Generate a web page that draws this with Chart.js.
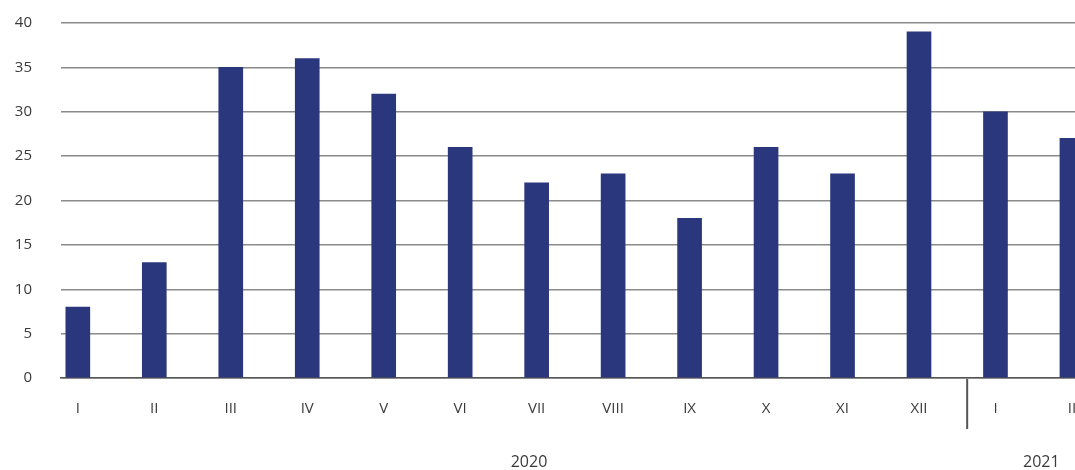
<!DOCTYPE html>
<html lang="en">
<head>
    <meta charset="UTF-8">
    <title>Monthly chart</title>
    <script src="https://cdn.jsdelivr.net/npm/chart.js@4.4.0/dist/chart.umd.min.js"></script>
    <style>
        html, body { margin: 0; padding: 0; background: #fff; overflow: hidden; }
        #wrap { width: 1075px; height: 470px; }
    </style>
</head>
<body>
    <div id="wrap"><canvas id="chart"></canvas></div>

    <script>
        // data
        const months = ['I', 'II', 'III', 'IV', 'V', 'VI', 'VII', 'VIII', 'IX', 'X', 'XI', 'XII', 'I', 'II'];
        const values = [8, 13, 35, 36, 32, 26, 22, 23, 18, 26, 23, 39, 30, 27];
        const years = ['2020', '2021'];
        const yearSplit = 12; // first index of 2021
        const yTicks = [0, 5, 10, 15, 20, 25, 30, 35, 40];

        const points = values.map((v, i) => ({ x: i, y: v }));
        const fontFamily = '"Open Sans", "Noto Sans", sans-serif';
        Chart.defaults.font.family = fontFamily;

        // separator tick between years + year labels
        const yearPlugin = {
            id: 'years',
            afterDraw(chart) {
                const ctx = chart.ctx;
                const xs = chart.scales.x;
                const bottom = chart.chartArea.bottom;
                const sepX = xs.getPixelForValue(yearSplit - 0.37);
                ctx.save();
                ctx.strokeStyle = '#555';
                ctx.lineWidth = 2;
                ctx.beginPath();
                ctx.moveTo(sepX, bottom + 1);
                ctx.lineTo(sepX, bottom + 51);
                ctx.stroke();

                ctx.fillStyle = '#3a3a3a';
                ctx.font = '16px ' + fontFamily;
                ctx.textAlign = 'center';
                ctx.textBaseline = 'middle';
                ctx.fillText(years[0], xs.getPixelForValue(5.9), 462);
                ctx.fillText(years[1], xs.getPixelForValue(12.6), 462);
                ctx.restore();
            }
        };

        new Chart(document.getElementById('chart'), {
            type: 'bar',
            data: {
                datasets: [{
                    data: points,
                    backgroundColor: '#2b377d',
                    barThickness: 24
                }]
            },
            options: {
                responsive: true,
                maintainAspectRatio: false,
                animation: false,
                layout: { padding: { top: 23, bottom: 30, right: 0, left: 0 } },
                plugins: {
                    legend: { display: false },
                    tooltip: { enabled: false }
                },
                scales: {
                    x: {
                        type: 'linear',
                        min: -0.22,
                        max: 13.04,
                        offset: false,
                        grid: { display: false, drawTicks: false },
                        border: { display: true, color: '#555', width: 1.5 },
                        afterBuildTicks: s => { s.ticks = months.map((_, i) => ({ value: i })); },
                        afterFit: s => { s.paddingLeft = 0; s.paddingRight = 0; },
                        ticks: {
                            autoSkip: false,
                            maxRotation: 0,
                            padding: 22,
                            color: '#3a3a3a',
                            font: { family: fontFamily, size: 15 },
                            callback: v => months[v]
                        }
                    },
                    y: {
                        min: 0,
                        max: 40,
                        afterBuildTicks: s => { s.ticks = yTicks.map(v => ({ value: v })); },
                        afterFit: s => { s.width = 61; s.paddingTop = 0; s.paddingBottom = 0; },
                        grid: { color: '#8a8a8a', lineWidth: 1.5, drawTicks: false },
                        border: { display: false },
                        ticks: {
                            padding: 29,
                            color: '#3a3a3a',
                            font: { family: fontFamily, size: 15 }
                        }
                    }
                }
            },
            plugins: [yearPlugin]
        });
    </script>
</body>
</html>
